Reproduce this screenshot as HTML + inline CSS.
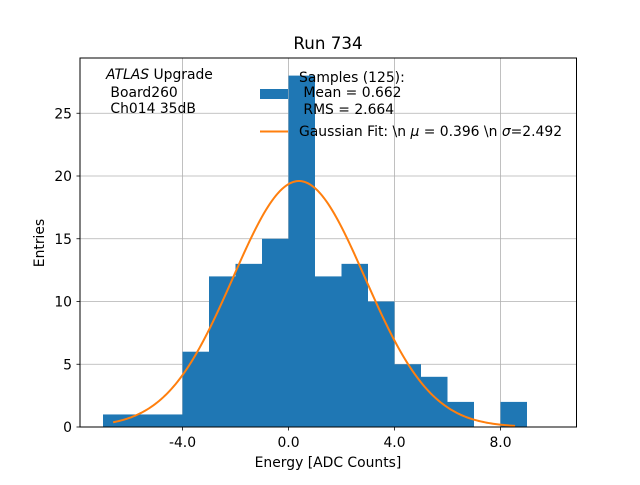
<!DOCTYPE html>
<html><head><meta charset="utf-8"><style>
body{margin:0;background:#fff}
svg text{font-family:"DejaVu Sans","Liberation Sans",sans-serif;fill:#000;white-space:pre}
</style></head><body>
<svg width="640" height="480" viewBox="0 0 640 480">
<rect width="640" height="480" fill="#fff"/>
<g id="grid"></g>
<g id="bars"></g>
<path id="fit" fill="none" stroke="#ff7f0e" stroke-width="2"/>
<rect x="80" y="58" width="496.5" height="369" fill="none" stroke="#000" stroke-width="1"/>
<g id="ticks"></g>
<text x="328" y="49" font-size="16.7" text-anchor="middle">Run 734</text>
<text x="328" y="467" font-size="13.9" text-anchor="middle">Energy [ADC Counts]</text>
<text transform="translate(44,243) rotate(-90)" font-size="13.9" text-anchor="middle">Entries</text>
<g font-size="13.9">
<text x="106" y="79"><tspan font-style="italic">ATLAS</tspan> Upgrade</text>
<text x="106" y="97"> Board260</text>
<text x="106" y="113"> Ch014 35dB</text>
</g>
<g font-size="13.9">
<rect x="260" y="89" width="28" height="10" fill="#1f77b4"/>
<text x="299" y="82">Samples (125):</text>
<text x="299" y="97"> Mean = 0.662</text>
<text x="299" y="114"> RMS = 2.664</text>
<line x1="260" y1="131.5" x2="288" y2="131.5" stroke="#ff7f0e" stroke-width="2"/>
<text x="299" y="136">Gaussian Fit: \n <tspan font-style="italic">μ</tspan> = 0.396 \n <tspan font-style="italic">σ</tspan>=2.492</text>
</g>
</svg>
<script>
const binEdges=[-7,-6,-5,-4,-3,-2,-1,0,1,2,3,4,5,6,7,8,9];
const counts=[1,1,1,6,12,13,15,28,12,13,10,5,4,2,0,2];
const xTicks=[-4,0,4,8];
const xTickLabels=["-4.0","0.0","4.0","8.0"];
const yTicks=[0,5,10,15,20,25];
const fitMu=0.396, fitSigma=2.492, fitAmp=19.6, fitMin=-6.62, fitMax=8.55;
const NS="http://www.w3.org/2000/svg";
const X=v=>288.5+v*26.5;
const Y=v=>427-v*12.55;
const mk=(t,a,p)=>{const e=document.createElementNS(NS,t);for(const k in a)e.setAttribute(k,a[k]);p.appendChild(e);return e;};
const grid=document.getElementById('grid'),bars=document.getElementById('bars'),ticks=document.getElementById('ticks');
xTicks.forEach((v,i)=>{
 const g=mk('line',{x1:X(v),x2:X(v),y1:58,y2:427,stroke:'#b0b0b0','stroke-width':0.8},grid);
 
 
 const t=mk('line',{x1:X(v),x2:X(v),y1:427,y2:430.5,stroke:'#000','stroke-width':0.8},ticks);
 
 
 const l=mk('text',{x:X(v),y:447,'font-size':13.9,'text-anchor':'middle'},ticks);
 l.textContent=xTickLabels[i];
 
 
});
yTicks.forEach(v=>{
 const g=mk('line',{x1:80,x2:576.5,y1:Y(v),y2:Y(v),stroke:'#b0b0b0','stroke-width':0.8},grid);
 
 
 const t=mk('line',{x1:76.5,x2:80,y1:Y(v),y2:Y(v),stroke:'#000','stroke-width':0.8},ticks);
 
 
 const l=mk('text',{x:72,y:Y(v)+5,'font-size':13.9,'text-anchor':'end'},ticks);
 l.textContent=String(v);
 
 
});
counts.forEach((c,i)=>{
 if(c<=0)return;
 const r=mk('rect',{x:X(binEdges[i]),y:Y(c),width:X(binEdges[i+1])-X(binEdges[i]),height:Y(0)-Y(c),fill:'#1f77b4'},bars);
 
 
});
let d='';
for(let i=0;i<=200;i++){
 const x=fitMin+(fitMax-fitMin)*i/200;
 const y=fitAmp*Math.exp(-0.5*((x-fitMu)/fitSigma)**2);
 d+=(i?'L':'M')+X(x).toFixed(2)+' '+Y(y).toFixed(2);
}
document.getElementById('fit').setAttribute('d',d);
</script>
</body></html>
